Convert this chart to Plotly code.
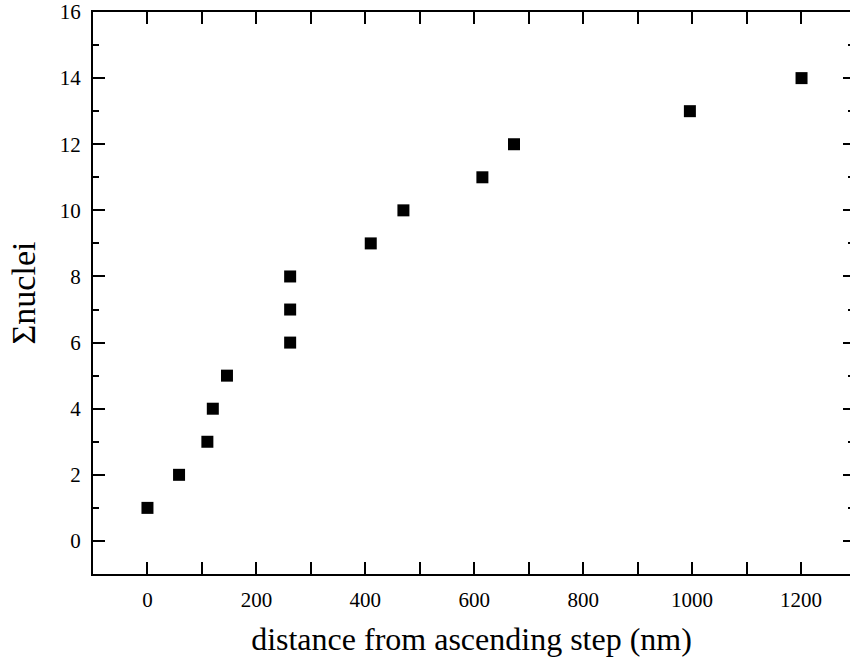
import plotly.graph_objects as go

distance_nm = [0, 58, 110, 120, 146, 262, 262, 262, 410, 470, 615, 673, 996, 1201]
sum_nuclei = [1, 2, 3, 4, 5, 6, 7, 8, 9, 10, 11, 12, 13, 14]

x_tickvals = [0, 200, 400, 600, 800, 1000, 1200]
y_tickvals = [0, 2, 4, 6, 8, 10, 12, 14, 16]

FONT = "Liberation Serif, Times New Roman, serif"

fig = go.Figure()
fig.add_trace(go.Scatter(
    x=distance_nm, y=sum_nuclei, mode="markers",
    marker=dict(symbol="square", size=12, color="black", line=dict(width=0)),
    showlegend=False,
))
# invisible trace on the right-hand axis (only to carry its ticks)
fig.add_trace(go.Scatter(
    x=[None], y=[None], yaxis="y2", mode="markers", showlegend=False, hoverinfo="skip",
))

tickfont = dict(family=FONT, size=21, color="black")

fig.update_layout(
    width=850, height=666,
    margin=dict(l=93, r=0, t=10, b=92, pad=0),
    plot_bgcolor="white", paper_bgcolor="white",
    xaxis=dict(
        range=[-100, 1290], tickvals=x_tickvals,
        showline=True, linecolor="black", linewidth=2, mirror="allticks",
        ticks="inside", ticklen=12, tickwidth=2, tickcolor="black",
        minor=dict(ticks="inside", ticklen=6, tickwidth=2, tickcolor="black", dtick=100, tick0=0, showgrid=False),
        showgrid=False, zeroline=False,
        tickfont=tickfont, ticklabelstandoff=6, ticklabeloverflow="allow",
        title=dict(text="distance from ascending step (nm)", font=dict(family=FONT, size=32, color="black"), standoff=16),
    ),
    yaxis=dict(
        range=[-1, 16], tickvals=y_tickvals,
        showline=True, linecolor="black", linewidth=2, mirror=False,
        ticks="inside", ticklen=12, tickwidth=2, tickcolor="black",
        minor=dict(ticks="inside", ticklen=6, tickwidth=2, tickcolor="black", dtick=1, tick0=0, showgrid=False),
        showgrid=False, zeroline=False,
        tickfont=tickfont, ticklabelstandoff=6, ticklabeloverflow="allow",
        title=dict(text="Σnuclei", font=dict(family=FONT, size=34, color="black"), standoff=14),
    ),
    yaxis2=dict(
        overlaying="y", side="right", range=[-1, 16], tickvals=y_tickvals,
        showline=False, showticklabels=False,
        ticks="inside", ticklen=7, tickwidth=2, tickcolor="black",
        minor=dict(ticks="inside", ticklen=2, tickwidth=2, tickcolor="black", dtick=1, tick0=0, showgrid=False),
        showgrid=False, zeroline=False,
    ),
)

fig.write_html("out.html", config={"displayModeBar": False},
               post_script="document.body.style.margin='0';")
